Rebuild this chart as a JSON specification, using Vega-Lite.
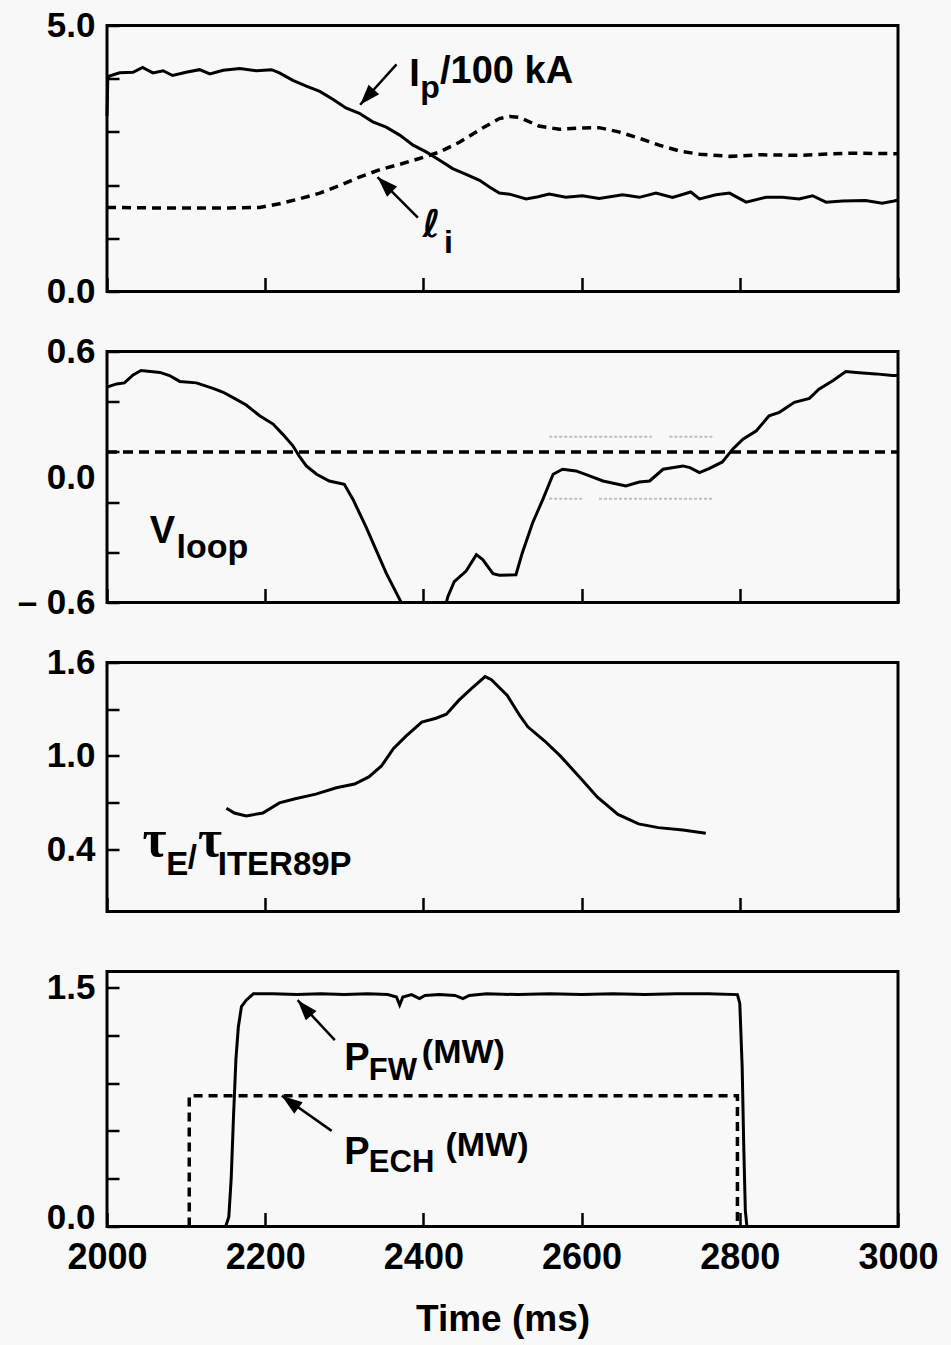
{
  "$schema": "https://vega.github.io/schema/vega-lite/v6.json",
  "background": "#f8f8f8",
  "padding": {"left": 15, "top": 6.5, "right": 45, "bottom": 10},
  "spacing": 60,
  "bounds": "flush",
  "datasets": {
    "ip": [
      {"t":2000,"v":3.3},{"t":2001,"v":4.0},{"t":2003,"v":4.05},{"t":2016,"v":4.11},{"t":2033,"v":4.12},{"t":2045,"v":4.21},{"t":2058,"v":4.11},{"t":2071,"v":4.15},{"t":2083,"v":4.06},{"t":2100,"v":4.12},{"t":2117,"v":4.17},{"t":2130,"v":4.09},{"t":2147,"v":4.16},{"t":2168,"v":4.19},{"t":2189,"v":4.15},{"t":2208,"v":4.17},{"t":2218,"v":4.11},{"t":2235,"v":3.97},{"t":2252,"v":3.86},{"t":2269,"v":3.76},{"t":2286,"v":3.61},{"t":2302,"v":3.45},{"t":2319,"v":3.35},{"t":2336,"v":3.19},{"t":2353,"v":3.09},{"t":2370,"v":2.94},{"t":2387,"v":2.75},{"t":2404,"v":2.62},{"t":2420,"v":2.47},{"t":2437,"v":2.31},{"t":2454,"v":2.2},{"t":2471,"v":2.09},{"t":2484,"v":1.96},{"t":2496,"v":1.85},{"t":2509,"v":1.83},{"t":2530,"v":1.74},{"t":2545,"v":1.78},{"t":2559,"v":1.83},{"t":2580,"v":1.77},{"t":2601,"v":1.8},{"t":2622,"v":1.75},{"t":2652,"v":1.82},{"t":2673,"v":1.77},{"t":2694,"v":1.85},{"t":2715,"v":1.77},{"t":2738,"v":1.87},{"t":2749,"v":1.74},{"t":2770,"v":1.82},{"t":2787,"v":1.85},{"t":2808,"v":1.68},{"t":2833,"v":1.77},{"t":2854,"v":1.77},{"t":2875,"v":1.74},{"t":2892,"v":1.8},{"t":2909,"v":1.68},{"t":2930,"v":1.7},{"t":2959,"v":1.71},{"t":2980,"v":1.66},{"t":2995,"v":1.7},{"t":3000,"v":1.72}
    ],
    "li": [
      {"t":2000,"v":1.58},{"t":2070,"v":1.57},{"t":2154,"v":1.57},{"t":2193,"v":1.58},{"t":2218,"v":1.65},{"t":2243,"v":1.74},{"t":2269,"v":1.85},{"t":2294,"v":1.99},{"t":2319,"v":2.15},{"t":2345,"v":2.29},{"t":2370,"v":2.39},{"t":2395,"v":2.5},{"t":2420,"v":2.62},{"t":2446,"v":2.81},{"t":2471,"v":3.04},{"t":2496,"v":3.25},{"t":2509,"v":3.29},{"t":2522,"v":3.27},{"t":2546,"v":3.11},{"t":2572,"v":3.05},{"t":2597,"v":3.07},{"t":2622,"v":3.08},{"t":2647,"v":3.0},{"t":2673,"v":2.88},{"t":2698,"v":2.75},{"t":2724,"v":2.64},{"t":2749,"v":2.58},{"t":2787,"v":2.54},{"t":2825,"v":2.57},{"t":2875,"v":2.56},{"t":2938,"v":2.6},{"t":3000,"v":2.59}
    ],
    "vloop": [
      {"t":2000,"v":0.43},{"t":2012,"v":0.445},{"t":2022,"v":0.45},{"t":2033,"v":0.488},{"t":2043,"v":0.509},{"t":2067,"v":0.5},{"t":2079,"v":0.485},{"t":2092,"v":0.457},{"t":2113,"v":0.45},{"t":2134,"v":0.424},{"t":2147,"v":0.405},{"t":2164,"v":0.37},{"t":2176,"v":0.344},{"t":2193,"v":0.293},{"t":2210,"v":0.253},{"t":2222,"v":0.205},{"t":2235,"v":0.149},{"t":2243,"v":0.1},{"t":2252,"v":0.053},{"t":2265,"v":0.013},{"t":2281,"v":-0.019},{"t":2300,"v":-0.035},{"t":2311,"v":-0.107},{"t":2328,"v":-0.243},{"t":2340,"v":-0.347},{"t":2353,"v":-0.46},{"t":2368,"v":-0.571},{"t":2372,"v":-0.6},{"t":2429,"v":-0.6},{"t":2431,"v":-0.571},{"t":2439,"v":-0.5},{"t":2454,"v":-0.45},{"t":2467,"v":-0.371},{"t":2475,"v":-0.395},{"t":2488,"v":-0.462},{"t":2496,"v":-0.47},{"t":2517,"v":-0.467},{"t":2525,"v":-0.363},{"t":2538,"v":-0.22},{"t":2551,"v":-0.107},{"t":2564,"v":0.013},{"t":2576,"v":0.037},{"t":2593,"v":0.029},{"t":2610,"v":0.005},{"t":2627,"v":-0.019},{"t":2656,"v":-0.043},{"t":2673,"v":-0.024},{"t":2686,"v":-0.019},{"t":2703,"v":0.037},{"t":2728,"v":0.053},{"t":2737,"v":0.045},{"t":2749,"v":0.021},{"t":2761,"v":0.04},{"t":2778,"v":0.072},{"t":2791,"v":0.133},{"t":2804,"v":0.181},{"t":2821,"v":0.221},{"t":2837,"v":0.293},{"t":2850,"v":0.309},{"t":2869,"v":0.357},{"t":2888,"v":0.376},{"t":2900,"v":0.42},{"t":2918,"v":0.461},{"t":2934,"v":0.504},{"t":2947,"v":0.5},{"t":2972,"v":0.493},{"t":2993,"v":0.485},{"t":3000,"v":0.485}
    ],
    "vref": [{"t":2000,"v":0.12},{"t":3000,"v":0.12}],
    "faint": [
      {"g":1,"t":2559,"v":0.193},{"g":1,"t":2689,"v":0.193},
      {"g":2,"t":2711,"v":0.193},{"g":2,"t":2768,"v":0.193},
      {"g":3,"t":2559,"v":-0.104},{"g":3,"t":2601,"v":-0.104},
      {"g":4,"t":2622,"v":-0.104},{"g":4,"t":2765,"v":-0.104}
    ],
    "tau": [
      {"t":2151,"v":0.664},{"t":2161,"v":0.633},{"t":2176,"v":0.614},{"t":2197,"v":0.633},{"t":2218,"v":0.698},{"t":2238,"v":0.724},{"t":2264,"v":0.754},{"t":2290,"v":0.795},{"t":2313,"v":0.819},{"t":2331,"v":0.865},{"t":2347,"v":0.935},{"t":2362,"v":1.046},{"t":2378,"v":1.127},{"t":2398,"v":1.217},{"t":2416,"v":1.242},{"t":2429,"v":1.268},{"t":2445,"v":1.358},{"t":2460,"v":1.429},{"t":2478,"v":1.509},{"t":2486,"v":1.489},{"t":2506,"v":1.388},{"t":2522,"v":1.258},{"t":2532,"v":1.187},{"t":2553,"v":1.097},{"t":2573,"v":1.0},{"t":2599,"v":0.855},{"t":2620,"v":0.734},{"t":2646,"v":0.624},{"t":2672,"v":0.563},{"t":2697,"v":0.539},{"t":2728,"v":0.523},{"t":2757,"v":0.503}
    ],
    "pfw": [
      {"t":2150,"v":0},{"t":2154,"v":0.06},{"t":2157,"v":0.3},{"t":2160,"v":0.7},{"t":2163,"v":1.05},{"t":2166,"v":1.25},{"t":2170,"v":1.38},{"t":2176,"v":1.42},{"t":2185,"v":1.46},{"t":2210,"v":1.46},{"t":2240,"v":1.455},{"t":2270,"v":1.46},{"t":2300,"v":1.455},{"t":2330,"v":1.46},{"t":2355,"v":1.455},{"t":2366,"v":1.44},{"t":2370,"v":1.39},{"t":2374,"v":1.44},{"t":2385,"v":1.455},{"t":2395,"v":1.43},{"t":2402,"v":1.45},{"t":2420,"v":1.455},{"t":2440,"v":1.45},{"t":2450,"v":1.43},{"t":2458,"v":1.45},{"t":2480,"v":1.46},{"t":2520,"v":1.455},{"t":2560,"v":1.46},{"t":2600,"v":1.455},{"t":2640,"v":1.46},{"t":2680,"v":1.455},{"t":2720,"v":1.46},{"t":2760,"v":1.46},{"t":2797,"v":1.455},{"t":2800,"v":1.4},{"t":2803,"v":1.0},{"t":2805,"v":0.5},{"t":2807,"v":0.1},{"t":2809,"v":0}
    ],
    "pech": [
      {"i":1,"t":2104,"v":0},{"i":2,"t":2104,"v":0.82},{"i":3,"t":2797,"v":0.82},{"i":4,"t":2797,"v":0}
    ],
    "arrows": [
      {"id":"ip","p":1,"t":2320,"v":3.51,"t2":2366,"v2":4.27},
      {"id":"li","p":1,"t":2342,"v":2.15,"t2":2393,"v2":1.39},
      {"id":"pfw","p":4,"t":2241,"v":1.42,"t2":2288,"v2":1.17},
      {"id":"pech","p":4,"t":2221,"v":0.82,"t2":2284,"v2":0.6}
    ],
    "txt": [
      {"p":1,"k":"m","t":2382,"v":3.86,"s":"I"},
      {"p":1,"k":"s","t":2396,"v":3.64,"s":"p"},
      {"p":1,"k":"m","t":2421,"v":3.91,"s":"/100 kA"},
      {"p":1,"k":"l","t":2399,"v":1.02,"s":"ℓ"},
      {"p":1,"k":"s","t":2426,"v":0.72,"s":"i"},
      {"p":2,"k":"m","t":2054,"v":-0.317,"s":"V"},
      {"p":2,"k":"s","t":2088,"v":-0.387,"s":"loop"},
      {"p":3,"k":"g","t":2045,"v":0.354,"s":"τ"},
      {"p":3,"k":"s","t":2075,"v":0.233,"s":"E"},
      {"p":3,"k":"s","t":2102,"v":0.28,"s":"/"},
      {"p":3,"k":"g","t":2115,"v":0.354,"s":"τ"},
      {"p":3,"k":"s","t":2140,"v":0.233,"s":"ITER89P"},
      {"p":4,"k":"m","t":2300,"v":0.98,"s":"P"},
      {"p":4,"k":"s","t":2331,"v":0.92,"s":"FW"},
      {"p":4,"k":"u","t":2398,"v":1.025,"s":"(MW)"},
      {"p":4,"k":"m","t":2300,"v":0.39,"s":"P"},
      {"p":4,"k":"s","t":2331,"v":0.345,"s":"ECH"},
      {"p":4,"k":"u","t":2428,"v":0.44,"s":"(MW)"}
    ]
  },
  "vconcat": [
    {
      "width": 791, "height": 266,
      "layer": [
        {"data": {"name": "ip"}, "mark": {"type": "line", "color": "black", "strokeWidth": 3},
         "encoding": {
           "x": {"field": "t", "type": "quantitative", "scale": {"domain": [2000, 3000]}, "axis": {"values": [2000,2200,2400,2600,2800,3000], "labels": false, "title": null}},
           "y": {"field": "v", "type": "quantitative", "scale": {"domain": [0, 5]}, "axis": {"values": [0,1,2,3,4,5], "labelExpr": "datum.value == 0 ? '0.0' : datum.value == 5 ? '5.0' : ''", "title": null}}}},
        {"data": {"name": "li"}, "mark": {"type": "line", "color": "black", "strokeWidth": 3.5, "strokeDash": [9, 6]},
         "encoding": {"x": {"field": "t", "type": "quantitative"}, "y": {"field": "v", "type": "quantitative"}}},
        {"data": {"name": "arrows"}, "transform": [{"filter": "datum.p == 1"}], "mark": {"type": "rule", "color": "black", "strokeWidth": 2.5},
         "encoding": {"x": {"field": "t", "type": "quantitative"}, "y": {"field": "v", "type": "quantitative"}, "x2": {"field": "t2"}, "y2": {"field": "v2"}}},
        {"data": {"name": "arrows"}, "transform": [{"filter": "datum.id == 'ip'"}], "mark": {"type": "point", "shape": "M0,0L-0.45,1.3L0.45,1.3Z", "filled": true, "color": "black", "opacity": 1, "size": 1000, "angle": 222},
         "encoding": {"x": {"field": "t", "type": "quantitative"}, "y": {"field": "v", "type": "quantitative"}}},
        {"data": {"name": "arrows"}, "transform": [{"filter": "datum.id == 'li'"}], "mark": {"type": "point", "shape": "M0,0L-0.45,1.3L0.45,1.3Z", "filled": true, "color": "black", "opacity": 1, "size": 1000, "angle": 315},
         "encoding": {"x": {"field": "t", "type": "quantitative"}, "y": {"field": "v", "type": "quantitative"}}},
        {"data": {"name": "txt"}, "transform": [{"filter": "datum.p == 1 && datum.k == 'm'"}], "mark": {"type": "text", "align": "left", "baseline": "alphabetic", "font": "Liberation Sans", "fontSize": 38, "fontWeight": "bold", "color": "black"},
         "encoding": {"x": {"field": "t", "type": "quantitative"}, "y": {"field": "v", "type": "quantitative"}, "text": {"field": "s"}}},
        {"data": {"name": "txt"}, "transform": [{"filter": "datum.p == 1 && datum.k == 's'"}], "mark": {"type": "text", "align": "left", "baseline": "alphabetic", "font": "Liberation Sans", "fontSize": 32, "fontWeight": "bold", "color": "black"},
         "encoding": {"x": {"field": "t", "type": "quantitative"}, "y": {"field": "v", "type": "quantitative"}, "text": {"field": "s"}}},
        {"data": {"name": "txt"}, "transform": [{"filter": "datum.p == 1 && datum.k == 'l'"}], "mark": {"type": "text", "align": "left", "baseline": "alphabetic", "font": "DejaVu Sans", "fontSize": 38, "fontStyle": "italic", "fontWeight": "bold", "color": "black"},
         "encoding": {"x": {"field": "t", "type": "quantitative"}, "y": {"field": "v", "type": "quantitative"}, "text": {"field": "s"}}}
      ]
    },
    {
      "width": 791, "height": 251,
      "layer": [
        {"data": {"name": "faint"}, "mark": {"type": "line", "color": "#999999", "strokeWidth": 2, "strokeDash": [3, 2], "opacity": 0.6},
         "encoding": {
           "x": {"field": "t", "type": "quantitative", "scale": {"domain": [2000, 3000]}, "axis": {"values": [2000,2200,2400,2600,2800,3000], "labels": false, "title": null}},
           "y": {"field": "v", "type": "quantitative", "scale": {"domain": [-0.6, 0.6]}, "axis": {"values": [-0.6,-0.36,-0.12,0,0.12,0.36,0.6], "labelExpr": "datum.value == 0.6 ? '0.6' : datum.value == 0 ? '0.0' : datum.value == -0.6 ? '– 0.6' : ''", "tickOpacity": {"condition": {"test": "datum.value == 0", "value": 0}, "value": 1}, "title": null}},
           "detail": {"field": "g"}}},
        {"data": {"name": "vref"}, "mark": {"type": "line", "color": "black", "strokeWidth": 3.5, "strokeDash": [10, 6]},
         "encoding": {"x": {"field": "t", "type": "quantitative"}, "y": {"field": "v", "type": "quantitative"}}},
        {"data": {"name": "vloop"}, "mark": {"type": "line", "color": "black", "strokeWidth": 3},
         "encoding": {"x": {"field": "t", "type": "quantitative"}, "y": {"field": "v", "type": "quantitative"}}},
        {"data": {"name": "txt"}, "transform": [{"filter": "datum.p == 2 && datum.k == 'm'"}], "mark": {"type": "text", "align": "left", "baseline": "alphabetic", "font": "Liberation Sans", "fontSize": 38, "fontWeight": "bold", "color": "black"},
         "encoding": {"x": {"field": "t", "type": "quantitative"}, "y": {"field": "v", "type": "quantitative"}, "text": {"field": "s"}}},
        {"data": {"name": "txt"}, "transform": [{"filter": "datum.p == 2 && datum.k == 's'"}], "mark": {"type": "text", "align": "left", "baseline": "alphabetic", "font": "Liberation Sans", "fontSize": 34, "fontWeight": "bold", "color": "black"},
         "encoding": {"x": {"field": "t", "type": "quantitative"}, "y": {"field": "v", "type": "quantitative"}, "text": {"field": "s"}}}
      ]
    },
    {
      "width": 791, "height": 249,
      "layer": [
        {"data": {"name": "tau"}, "mark": {"type": "line", "color": "black", "strokeWidth": 3},
         "encoding": {
           "x": {"field": "t", "type": "quantitative", "scale": {"domain": [2000, 3000]}, "axis": {"values": [2000,2200,2400,2600,2800,3000], "labels": false, "title": null}},
           "y": {"field": "v", "type": "quantitative", "scale": {"domain": [0.1, 1.6]}, "axis": {"values": [0.4,0.7,1.0,1.3,1.6], "labelExpr": "datum.value == 0.7 || datum.value == 1.3 ? '' : format(datum.value, '.1f')", "title": null}}}},
        {"data": {"name": "txt"}, "transform": [{"filter": "datum.p == 3 && datum.k == 'g'"}], "mark": {"type": "text", "align": "left", "baseline": "alphabetic", "font": "Liberation Serif", "fontSize": 52, "fontWeight": "bold", "color": "black"},
         "encoding": {"x": {"field": "t", "type": "quantitative"}, "y": {"field": "v", "type": "quantitative"}, "text": {"field": "s"}}},
        {"data": {"name": "txt"}, "transform": [{"filter": "datum.p == 3 && datum.k == 's'"}], "mark": {"type": "text", "align": "left", "baseline": "alphabetic", "font": "Liberation Sans", "fontSize": 33, "fontWeight": "bold", "color": "black"},
         "encoding": {"x": {"field": "t", "type": "quantitative"}, "y": {"field": "v", "type": "quantitative"}, "text": {"field": "s"}}}
      ]
    },
    {
      "width": 791, "height": 255,
      "layer": [
        {"data": {"name": "pech"}, "mark": {"type": "line", "color": "black", "strokeWidth": 3.5, "strokeDash": [9, 6]},
         "encoding": {
           "x": {"field": "t", "type": "quantitative", "scale": {"domain": [2000, 3000]}, "axis": {"values": [2000,2200,2400,2600,2800,3000], "format": "d", "title": "Time (ms)"}},
           "y": {"field": "v", "type": "quantitative", "scale": {"domain": [0, 1.5]}, "axis": {"values": [0,0.3,0.6,0.9,1.2,1.5], "labelExpr": "datum.value == 0 ? '0.0' : datum.value == 1.5 ? '1.5' : ''", "labelOffset": {"condition": {"test": "datum.value == 0", "value": -9}, "value": 0}, "title": null}},
           "order": {"field": "i"}}},
        {"data": {"name": "pfw"}, "mark": {"type": "line", "color": "black", "strokeWidth": 3},
         "encoding": {"x": {"field": "t", "type": "quantitative"}, "y": {"field": "v", "type": "quantitative"}}},
        {"data": {"name": "arrows"}, "transform": [{"filter": "datum.p == 4"}], "mark": {"type": "rule", "color": "black", "strokeWidth": 2.5},
         "encoding": {"x": {"field": "t", "type": "quantitative"}, "y": {"field": "v", "type": "quantitative"}, "x2": {"field": "t2"}, "y2": {"field": "v2"}}},
        {"data": {"name": "arrows"}, "transform": [{"filter": "datum.id == 'pfw'"}], "mark": {"type": "point", "shape": "M0,0L-0.45,1.3L0.45,1.3Z", "filled": true, "color": "black", "opacity": 1, "size": 1000, "angle": 319},
         "encoding": {"x": {"field": "t", "type": "quantitative"}, "y": {"field": "v", "type": "quantitative"}}},
        {"data": {"name": "arrows"}, "transform": [{"filter": "datum.id == 'pech'"}], "mark": {"type": "point", "shape": "M0,0L-0.45,1.3L0.45,1.3Z", "filled": true, "color": "black", "opacity": 1, "size": 1000, "angle": 306},
         "encoding": {"x": {"field": "t", "type": "quantitative"}, "y": {"field": "v", "type": "quantitative"}}},
        {"data": {"name": "txt"}, "transform": [{"filter": "datum.p == 4 && datum.k == 'm'"}], "mark": {"type": "text", "align": "left", "baseline": "alphabetic", "font": "Liberation Sans", "fontSize": 38, "fontWeight": "bold", "color": "black"},
         "encoding": {"x": {"field": "t", "type": "quantitative"}, "y": {"field": "v", "type": "quantitative"}, "text": {"field": "s"}}},
        {"data": {"name": "txt"}, "transform": [{"filter": "datum.p == 4 && datum.k == 's'"}], "mark": {"type": "text", "align": "left", "baseline": "alphabetic", "font": "Liberation Sans", "fontSize": 31, "fontWeight": "bold", "color": "black"},
         "encoding": {"x": {"field": "t", "type": "quantitative"}, "y": {"field": "v", "type": "quantitative"}, "text": {"field": "s"}}},
        {"data": {"name": "txt"}, "transform": [{"filter": "datum.p == 4 && datum.k == 'u'"}], "mark": {"type": "text", "align": "left", "baseline": "alphabetic", "font": "Liberation Sans", "fontSize": 34, "fontWeight": "bold", "color": "black"},
         "encoding": {"x": {"field": "t", "type": "quantitative"}, "y": {"field": "v", "type": "quantitative"}, "text": {"field": "s"}}}
      ]
    }
  ],
  "config": {
    "view": {"stroke": "black", "strokeWidth": 3},
    "axis": {
      "domain": false, "grid": false, "ticks": true, "tickSize": -12, "tickWidth": 2.5, "tickColor": "black",
      "labelFont": "Liberation Sans", "labelFontSize": 35, "labelFontWeight": "bold", "labelColor": "black", "labelPadding": 24,
      "titleFont": "Liberation Sans", "titleFontSize": 37, "titleFontWeight": "bold", "titleColor": "black", "labelOverlap": false, "labelFlush": false
    },
    "axisX": {"labelFontSize": 36, "tickSize": -14, "labelPadding": 28, "titlePadding": 26}
  }
}
